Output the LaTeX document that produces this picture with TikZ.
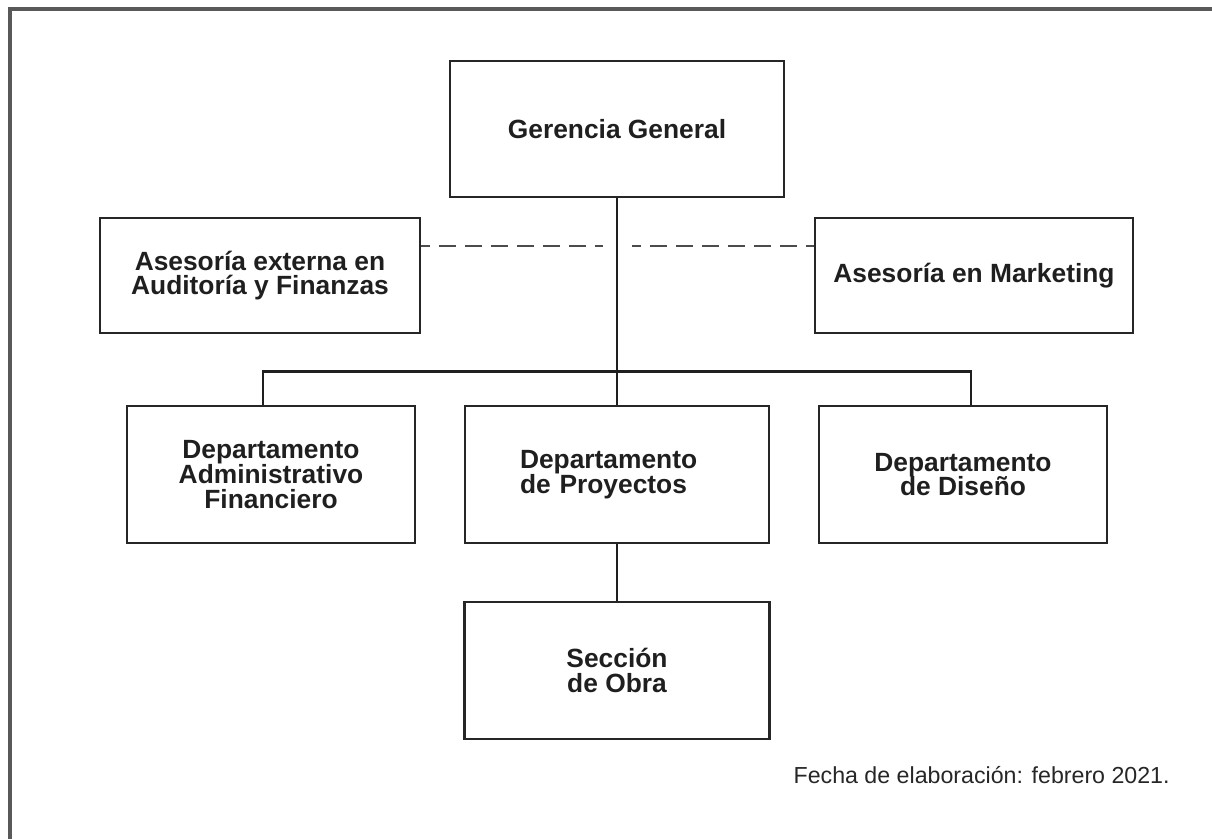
\documentclass[tikz,border=0pt]{standalone}
\usepackage{fontspec}
\setmainfont{Liberation Sans}
\usepackage{xcolor}
\usepackage{tikz}

\begin{document}
\begin{tikzpicture}[x=0.02cm,y=-0.02cm]
\tikzstyle{block}=[rectangle,draw=black!85,line width=1.4pt,minimum height=2.74cm,minimum width=5.76cm,font=\fontsize{15}{14}\selectfont\bfseries,align=center,text=black!88]
\tikzstyle{link}=[draw=black!88,line width=1.6pt]
\tikzstyle{advice}=[link,draw=black!70,dash pattern=on 0.34cm off 0.18cm,dash phase=0.16cm]
\useasboundingbox (0,0) rectangle (1212,839);
\draw[black!65,line width=1.9pt] (10,839) -- (10,9) -- (1212,9);
\node[block,minimum width=6.68cm,minimum height=2.72cm] (gg) at (617,129) {Gerencia General};
\node[block,minimum width=6.4cm,minimum height=2.3cm] (aud) at (260,275.5) {Asesoría externa en\\Auditoría y Finanzas};
\node[block,minimum width=6.36cm,minimum height=2.3cm] (mkt) at (974,275.5) {Asesoría en Marketing};
\node[block] (adm) at (271,474.5) {Departamento\\Administrativo\\Financiero};
\node[block,minimum width=6.08cm,text width=3.88cm,align=left] (proy) at (617,474.5) {Departamento\\de Proyectos};
\node[block] (dis) at (963,474.5) {Departamento\\de Diseño};
\node[block,minimum width=6.1cm] (obra) at (617,670.5) {Sección\\de Obra};
\coordinate (gapl) at (603,246);
\coordinate (gapr) at (632,246);
\draw[link] (gg) -- (proy);
\draw[link] (proy) -- (obra);
\draw[link] ([xshift=-0.16cm]adm.north) -- ++(0,-33) -| ([xshift=0.16cm]dis.north);
\draw[advice] (aud.east |- gapl) -- (gapl);
\draw[advice] (gapr) -- (mkt.west |- gapr);
\node[anchor=base east,inner sep=0,font=\fontsize{13.2}{15}\selectfont,text=black!85] (fecha) at (1170,783) {Fecha de elaboración: febrero 2021.};
\end{tikzpicture}
\end{document}
